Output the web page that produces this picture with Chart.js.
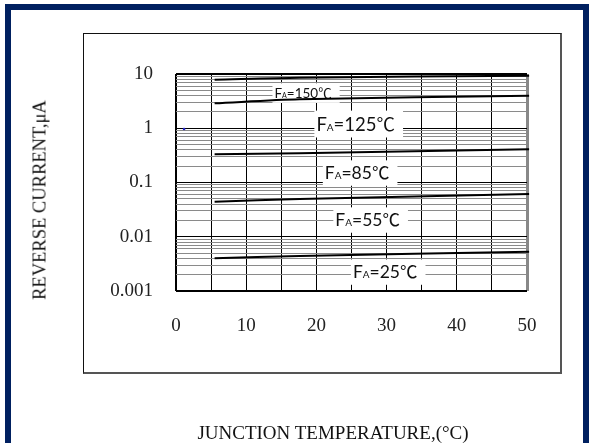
<!DOCTYPE html>
<html>
<head>
<meta charset="utf-8">
<script src="https://cdn.jsdelivr.net/npm/chart.js@4.4.1/dist/chart.umd.min.js"></script>
<style>
  html, body { margin: 0; padding: 0; background: #fff; }
  body { width: 589px; height: 443px; position: relative; overflow: hidden; }
  #frame {
    position: absolute; left: 5px; top: 4px; width: 584px; height: 439px;
    box-sizing: border-box; border: 6px solid #002060; border-bottom: none;
  }
  #panel {
    position: absolute; left: 83px; top: 33px; width: 479px; height: 341px;
    box-sizing: border-box; border-left: 1px solid #111; border-top: 1px solid #111;
    border-right: 2px solid #555; border-bottom: 2px solid #555;
  }
  #chart { position: absolute; left: 0; top: 0; }
  .axis-title {
    position: absolute; white-space: nowrap; color: #111;
    font-family: "Liberation Serif", "Times New Roman", serif;
    font-size: 19px; line-height: 19px;
  }
  #xTitle { left: 333px; top: 423px; transform: translateX(-50%); }
  #yTitle { left: 40px; top: 200px; transform: translate(-50%, -50%) rotate(-90deg); font-size: 18.5px; }
</style>
</head>
<body>
<div id="frame"></div>
<div id="panel"></div>
<canvas id="chart" width="589" height="443"></canvas>
<div class="axis-title" id="xTitle">JUNCTION TEMPERATURE,(°C)</div>
<div class="axis-title" id="yTitle">REVERSE CURRENT,μA</div>
<script>
// Reverse current vs junction temperature, one line per ambient temperature

const xValues = [5.5, 17.6, 50.3];
const temps = ['150', '125', '85', '55', '25'];
const current150 = [7.85, 8.55, 9.3];
const current125 = [2.88, 3.42, 3.98];
const current85 = [0.331, 0.345, 0.409];
const current55 = [0.0443, 0.0497, 0.0614];
const current25 = [0.00401, 0.00442, 0.0053];
const dotX = [1.15];
const dotY = [0.97];

const xTickValues = [0, 10, 20, 30, 40, 50];
const xTickLabels = ['0', '10', '20', '30', '40', '50'];
const decades = [0.001, 0.01, 0.1, 1, 10];
const yTickLabels = ['0.001', '0.01', '0.1', '1', '10'];

const tickFont = {
    family: '"Liberation Serif", "Times New Roman", serif',
    size: 19
};

function toPoints(xs, ys) {
    return xs.map((x, i) => ({ x: x, y: ys[i] }));
}

function decadeIndex(v) {
    return decades.findIndex(d => Math.abs(d - v) / d < 1e-6);
}

// White boxed labels sitting under each curve
const curveLabelPlugin = {
    id: 'curveLabels',
    beforeDatasetsDraw(chart, args, opts) {
        const ctx = chart.ctx;
        const xs = chart.scales.x;
        const ys = chart.scales.y;
        ctx.save();
        opts.items.forEach((item, i) => {
            const cx = xs.getPixelForValue(item.x);
            const cy = ys.getPixelForValue(item.y);
            const s = item.size;
            const parts = [
                { t: 'F', f: s + 'px Lato' },
                { t: 'A', f: Math.round(s * 0.55) + 'px Lato' },
                { t: '=' + temps[i], f: s + 'px Lato' },
                { t: '\u2103', f: s + 'px "Noto Sans CJK JP"' }
            ];
            let total = 0;
            parts.forEach(p => {
                ctx.font = p.f;
                p.w = ctx.measureText(p.t).width;
                total += p.w;
            });
            let left = cx - total / 2;
            ctx.fillStyle = '#fff';
            ctx.fillRect(left - 2, cy - s * 0.72, total + 10, s * 1.45);
            ctx.fillStyle = '#111';
            ctx.textBaseline = 'alphabetic';
            ctx.textAlign = 'left';
            parts.forEach(p => {
                ctx.font = p.f;
                ctx.fillText(p.t, left, cy + s * 0.36);
                left += p.w;
            });
        });
        ctx.restore();
    }
};

const lineStyle = {
    borderColor: '#000',
    borderWidth: 2,
    pointRadius: 0,
    tension: 0.3,
    fill: false,
    clip: false
};

new Chart(document.getElementById('chart'), {
    type: 'line',
    data: {
        datasets: [
            Object.assign({ label: temps[0], data: toPoints(xValues, current150) }, lineStyle),
            Object.assign({ label: temps[1], data: toPoints(xValues, current125) }, lineStyle),
            Object.assign({ label: temps[2], data: toPoints(xValues, current85) }, lineStyle),
            Object.assign({ label: temps[3], data: toPoints(xValues, current55) }, lineStyle),
            Object.assign({ label: temps[4], data: toPoints(xValues, current25) }, lineStyle),
            {
                label: 'dot',
                data: toPoints(dotX, dotY),
                showLine: false,
                pointRadius: 1.3,
                pointBackgroundColor: '#2020c0',
                pointBorderWidth: 0
            }
        ]
    },
    options: {
        responsive: false,
        animation: false,
        layout: {
            padding: { left: 0, top: 74, right: 62, bottom: 0 }
        },
        plugins: {
            legend: { display: false },
            tooltip: { enabled: false },
            curveLabels: {
                items: [
                    { x: 18.1, y: 4.47, size: 13.5 },
                    { x: 25.6, y: 1.2, size: 18.5 },
                    { x: 25.8, y: 0.15, size: 17.5 },
                    { x: 27.3, y: 0.0204, size: 17.5 },
                    { x: 29.8, y: 0.00224, size: 17.5 }
                ]
            }
        },
        scales: {
            x: {
                type: 'linear',
                min: 0,
                max: 50,
                afterFit(scale) { scale.height = 152; },
                border: { display: false },
                grid: {
                    drawTicks: false,
                    color: ctx => ctx.tick.value === 50 ? '#888' : '#000',
                    lineWidth: ctx => ctx.tick.value === 50 ? 3 : (ctx.tick.value === 0 ? 2 : 1)
                },
                ticks: {
                    stepSize: 5,
                    autoSkip: false,
                    maxRotation: 0,
                    padding: 24,
                    color: '#222',
                    font: tickFont,
                    callback: v => {
                        const i = xTickValues.indexOf(v);
                        return i >= 0 ? xTickLabels[i] : '';
                    }
                }
            },
            y: {
                type: 'logarithmic',
                min: 0.001,
                max: 10,
                afterFit(scale) { scale.width = 176; },
                afterBuildTicks(scale) {
                    const t = [];
                    decades.slice(0, -1).forEach(d => {
                        for (let m = 1; m < 10; m++) t.push({ value: d * m });
                    });
                    t.push({ value: decades[decades.length - 1] });
                    scale.ticks = t;
                },
                border: { display: false },
                grid: {
                    drawTicks: false,
                    color: ctx => decadeIndex(ctx.tick.value) >= 0 ? '#000' : '#8a8a8a',
                    lineWidth: ctx => {
                        const i = decadeIndex(ctx.tick.value);
                        return (i === 0 || i === decades.length - 1) ? 2 : 1;
                    }
                },
                ticks: {
                    autoSkip: false,
                    padding: 23,
                    color: '#222',
                    font: tickFont,
                    callback: v => {
                        const i = decadeIndex(v);
                        return i >= 0 ? yTickLabels[i] : '';
                    }
                }
            }
        }
    },
    plugins: [curveLabelPlugin]
});
</script>
</body>
</html>
